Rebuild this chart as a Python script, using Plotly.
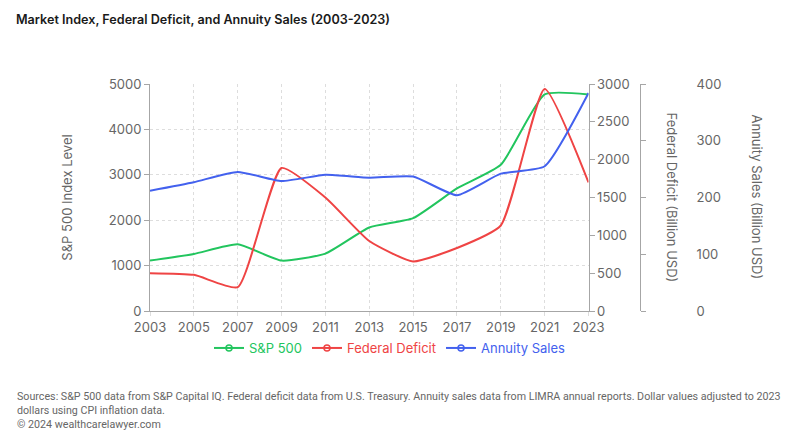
import plotly.graph_objects as go

years = [2003, 2005, 2007, 2009, 2011, 2013, 2015, 2017, 2019, 2021, 2023]
sp500 = [1110, 1255, 1468, 1110, 1265, 1840, 2045, 2700, 3220, 4770, 4770]
deficit = [500, 478, 315, 1890, 1500, 925, 655, 832, 1130, 2935, 1700]
annuity = [212, 227, 245, 229, 240, 235, 237, 204, 242, 255, 384]

series_names = ["S&P 500", "Federal Deficit", "Annuity Sales"]
colors = ["#22c55e", "#ef4444", "#4361ee"]

title_text = "Market Index, Federal Deficit, and Annuity Sales (2003-2023)"
footer_text = ("Sources: S&P 500 data from S&P Capital IQ. Federal deficit data from U.S. Treasury. "
               "Annuity sales data from LIMRA annual reports. Dollar values adjusted to 2023<br>"
               "dollars using CPI inflation data.<br>© 2024 wealthcarelawyer.com")

FONT = "Inter, Roboto, sans-serif"
GRAY = "#666666"
AXIS = "#a6a6a6"

# page body has an 8px margin; layout positions below are figure pixels
L, R, T, B = 142, 108, 76, 134
PW = 800 - L - R  # paper width
PH = 437 - T - B  # plot height

def px_x(page_x):
    return (page_x - 8 - L) / PW

def px_y(page_y):
    return (437 - B - (page_y - 8)) / PH

fig = go.Figure()
data = [(sp500, "y"), (deficit, "y2"), (annuity, "y3")]
for (vals, yref), name, col in zip(data, series_names, colors):
    fig.add_trace(go.Scatter(x=years, y=vals, yaxis=yref, mode="lines",
                             line=dict(color=col, width=2, shape="spline", smoothing=0.5),
                             name=name, showlegend=False, hoverinfo="x+y"))
for name, col in zip(series_names, colors):
    fig.add_trace(go.Scatter(x=[None], y=[None], mode="lines+markers",
                             line=dict(color=col, width=2),
                             marker=dict(symbol="circle-open", size=6, color=col, line=dict(width=1.5)),
                             name=f"<span style='color:{col}'>{name}</span>", showlegend=True))

tickfont = dict(family=FONT, size=13, color=GRAY)

fig.update_layout(
    width=800, height=437,
    margin=dict(l=L, r=R, t=T, b=B),
    paper_bgcolor="white", plot_bgcolor="white",
    font=dict(family=FONT, color=GRAY),
    title=dict(text=title_text, x=8/800, xref="container", xanchor="left",
               y=1 - 12/437, yref="container", yanchor="middle",
               font=dict(family=FONT, size=12.6, color="#1a1a1a", weight=600)),
    xaxis=dict(domain=[0, 438.5/PW], range=[2003, 2023], dtick=2, tick0=2003,
               showgrid=True, gridcolor="#dddddd", griddash="dot", gridwidth=1,
               showline=True, linecolor=AXIS, linewidth=1,
               ticks="outside", ticklen=4, tickcolor="#dddddd",
               tickfont=tickfont, zeroline=False),
    yaxis=dict(range=[0, 5000], dtick=1000, showgrid=True, gridcolor="#dddddd",
               griddash="dot", gridwidth=1, showline=True, linecolor=AXIS,
               ticks="outside", ticklen=5, tickcolor=AXIS, tickfont=tickfont,
               zeroline=False,
               title=dict(text="S&P 500 Index Level", standoff=32,
                          font=dict(family=FONT, size=13, color=GRAY))),
    yaxis2=dict(range=[0, 3000], dtick=500, overlaying="y", side="right", anchor="x",
                showgrid=False, showline=True, linecolor=AXIS, ticks="outside",
                ticklen=5, tickcolor=AXIS, tickfont=tickfont, zeroline=False),
    yaxis3=dict(range=[0, 400], dtick=100, overlaying="y", side="right", anchor="free",
                position=px_x(640), showgrid=False, showline=True, linecolor=AXIS,
                ticks="outside", ticklen=5, tickcolor=AXIS, tickfont=tickfont,
                ticklabelstandoff=48, zeroline=False),
    legend=dict(orientation="h", x=px_x(390), xanchor="center",
                y=px_y(348), yanchor="middle",
                font=dict(family=FONT, size=13), bgcolor="rgba(0,0,0,0)"),
    annotations=[
        dict(text="Federal Deficit (Billion USD)", xref="paper", yref="paper",
             x=px_x(672), y=0.5, xanchor="center", yanchor="middle", textangle=90,
             showarrow=False, font=dict(family=FONT, size=13, color=GRAY)),
        dict(text="Annuity Sales (Billion USD)", xref="paper", yref="paper",
             x=px_x(757), y=0.5, xanchor="center", yanchor="middle", textangle=90,
             showarrow=False, font=dict(family=FONT, size=13, color=GRAY)),
        dict(text=footer_text, xref="paper", yref="paper", x=px_x(15),
             y=px_y(388), xanchor="left", yanchor="top", align="left",
             showarrow=False, font=dict(family="Roboto, sans-serif", size=10.7, color=GRAY)),
    ],
)

fig.write_html("out.html")
